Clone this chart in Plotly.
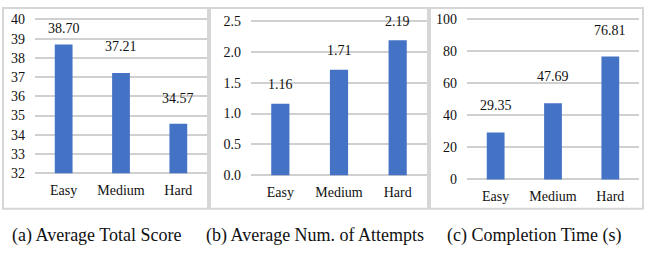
import plotly.graph_objects as go

categories = ["Easy", "Medium", "Hard"]
total_score = [38.70, 37.21, 34.57]
attempts = [1.16, 1.71, 2.19]
completion_time = [29.35, 47.69, 76.81]
captions = ["(a) Average Total Score", "(b) Average Num. of Attempts", "(c) Completion Time (s)"]

W, H = 645, 258
BAR = "#4472C4"
GRID = "#d0d0d0"
BORDER = "#d6d6d6"
FONT = "Liberation Serif"
TXT = "#111111"
PAD = 2.5  # px of extra room so the end gridlines are drawn

def px(x):
    return x / W

def py(y):
    return 1 - y / H

panels = [
    dict(vals=total_score, fmt="{:.2f}", xdom=(35, 207), ytop=15, ybot=175, rng=[32, 40], dtick=1, tfmt="d",
         shifts=[16, 27, 25], box=(3, 208), cap_x=97),
    dict(vals=attempts, fmt="{:.2f}", xdom=(251, 427), ytop=16.7, ybot=177, rng=[0, 2.5], dtick=0.5, tfmt=".1f",
         shifts=[19, 19, 19], box=(210, 428), cap_x=315),
    dict(vals=completion_time, fmt="{:.2f}", xdom=(467, 639), ytop=15, ybot=181.5, rng=[0, 100], dtick=20, tfmt="d",
         shifts=[26.5, 26.5, 26.5], box=(430, 643), cap_x=534),
]

fig = go.Figure()
annotations = []
shapes = []
layout = {}
for i, p in enumerate(panels, start=1):
    xa = "x" if i == 1 else f"x{i}"
    ya = "y" if i == 1 else f"y{i}"
    lo, hi = p["rng"]
    upp = (hi - lo) / (p["ybot"] - p["ytop"])
    fig.add_trace(go.Bar(x=categories, y=[v - lo for v in p["vals"]], base=lo, xaxis=xa, yaxis=ya,
                         marker=dict(color=BAR, line=dict(width=0)),
                         width=0.31, showlegend=False, hoverinfo="skip"))
    layout[f"xaxis{'' if i == 1 else i}"] = dict(
        domain=[px(p["xdom"][0]), px(p["xdom"][1])], anchor=ya, showgrid=False, zeroline=False,
        showline=False, ticks="", ticklabelstandoff=4,
        tickfont=dict(family=FONT, size=14, color=TXT), fixedrange=True)
    layout[f"yaxis{'' if i == 1 else i}"] = dict(
        domain=[py(p["ybot"] + PAD), py(p["ytop"] - PAD)], anchor=xa,
        range=[lo - PAD * upp, hi + PAD * upp], tick0=lo, dtick=p["dtick"],
        tickformat=p["tfmt"], showgrid=True, gridcolor=GRID, gridwidth=2, zeroline=False, showline=False,
        ticks="", ticklabelstandoff=9, tickfont=dict(family=FONT, size=14, color=TXT), fixedrange=True)
    for c, v, s in zip(categories, p["vals"], p["shifts"]):
        annotations.append(dict(x=c, y=v, xref=xa, yref=ya, text=p["fmt"].format(v), showarrow=False,
                                yshift=s, yanchor="middle", xanchor="center",
                                font=dict(family=FONT, size=14, color=TXT)))
    shapes.append(dict(type="rect", xref="paper", yref="paper", x0=px(p["box"][0]), x1=px(p["box"][1]),
                       y0=py(212), y1=py(3), line=dict(color=BORDER, width=2)))
    annotations.append(dict(x=px(p["cap_x"]), y=py(240), xref="paper", yref="paper", text=captions[i - 1],
                            showarrow=False, xanchor="center", yanchor="middle",
                            font=dict(family=FONT, size=18, color=TXT)))

fig.update_layout(width=W, height=H, margin=dict(l=0, r=0, t=0, b=0), paper_bgcolor="white",
                  plot_bgcolor="white", annotations=annotations, shapes=shapes, **layout)
fig.write_html("out.html", config={"responsive": False, "displayModeBar": False},
               post_script="document.body.style.margin='0';document.body.style.overflow='hidden';")
